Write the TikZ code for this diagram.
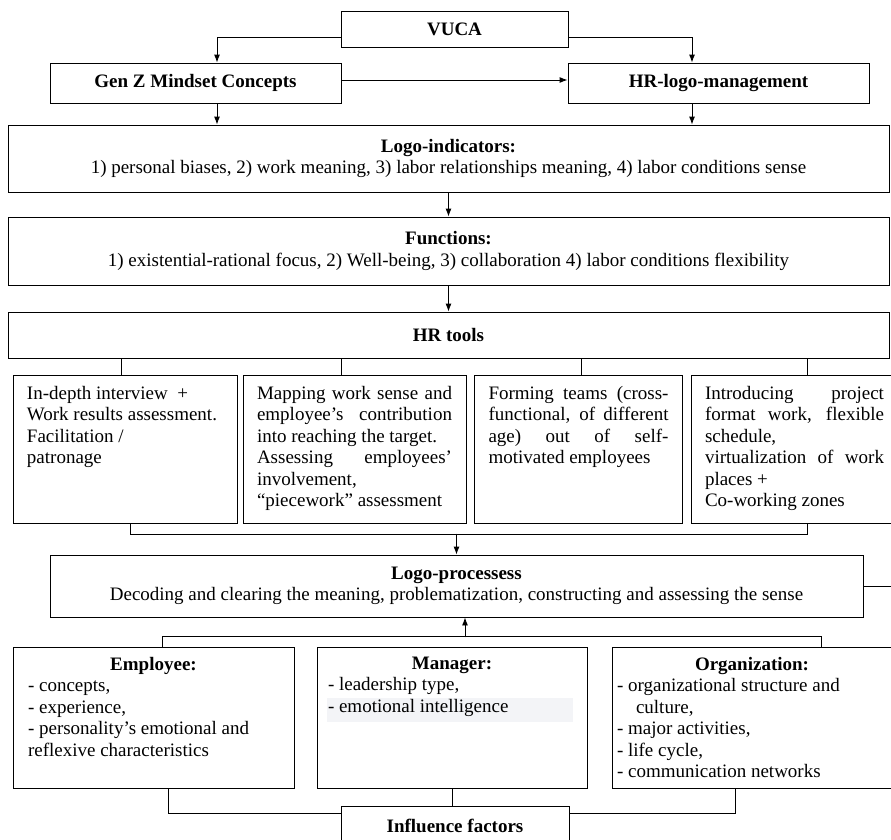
\documentclass[tikz,border=0pt]{standalone}
\usepackage{fontspec}
\setmainfont{Liberation Serif}
\usetikzlibrary{arrows.meta,calc,backgrounds}
\definecolor{hlgray}{RGB}{243,244,247}
\newcommand{\boxtext}[3]{\parbox[c][#2pt][t]{#1pt}{\hyphenpenalty=10000 \tolerance=9999 #3}}
\tikzset{
  box/.style={draw, align=center, inner sep=0pt},
  title/.style={font=\fontsize{19}{21.5}\selectfont\bfseries},
  tool/.style={draw, inner xsep=14pt, inner ysep=11pt},
  factor/.style={draw, inner ysep=10pt},
  arr/.style={-{Latex[length=8pt,width=6pt]}},
}

\begin{document}
\begin{tikzpicture}[x=1pt, y=-1pt, line width=0.9pt, font=\fontsize{19}{21.5}\selectfont]
\useasboundingbox (0,0) rectangle (891,839);
% top
\node[box, title, minimum width=227, minimum height=36] (vuca) at (454.5,29) {VUCA};
\node[box, title, minimum width=291, minimum height=40] (genz) at (195.5,83) {Gen Z Mindset Concepts};
\node[box, title, minimum width=301, minimum height=40] (hrlogo) at (718.5,83) {HR-logo-management};
\draw[arr] ([yshift=-8]vuca.west) -| ([xshift=21.5]genz.north);
\draw[arr] ([yshift=-8]vuca.east) -| ([xshift=-26.5]hrlogo.north);
\draw[arr] ([yshift=3]genz.east) -- ([yshift=3]hrlogo.west);

% indicators, functions, tools
\node[box, minimum width=881, minimum height=67] (logoind) at (448.5,158.5)
  {\textbf{Logo-indicators:}\\ 1) personal biases, 2) work meaning, 3) labor relationships meaning, 4) labor conditions sense};
\node[box, minimum width=881, minimum height=68] (functions) at (448.5,251)
  {\textbf{Functions:}\\ 1) existential-rational focus, 2) Well-being, 3) collaboration 4) labor conditions flexibility};
\node[box, title, minimum width=881, minimum height=46] (hrtools) at (448.5,335) {HR tools};
\draw[arr] ([xshift=21.5]genz.south) -- ([xshift=21.5]genz.south |- logoind.north);
\draw[arr] ([xshift=-26.5]hrlogo.south) -- ([xshift=-26.5]hrlogo.south |- logoind.north);
\draw[arr] (logoind.south) -- (functions.north);
\draw[arr] (functions.south) -- (hrtools.north);

\node[tool] (tool1) at (125,449) {\boxtext{196}{126}{In-depth interview~~+\newline Work results assessment.\newline Facilitation /\newline patronage}};
\node[tool] (tool2) at (354.5,449) {\boxtext{195}{126}{Mapping work sense and employee’s contribution into reaching the target.\newline Assessing employees’ involvement,\newline “piecework” assessment}};
\node[tool] (tool3) at (578.5,449) {\boxtext{180}{126}{Forming teams (cross-functional, of different age) out of self-motivated employees}};
\node[tool] (tool4) at (794.5,449) {\boxtext{179}{126}{Introducing project format work, flexible schedule,\newline virtualization of work places +\newline Co-working zones}};
\foreach \t/\dx in {tool1/-4, tool2/-13.5, tool3/2.5, tool4/12.5}
  \draw ([xshift=\dx]\t.north) -- ([xshift=\dx]\t.north |- hrtools.south);

% processes
\node[box, minimum width=813, minimum height=62] (logoproc) at (456.5,586)
  {\textbf{Logo-processess}\\ Decoding and clearing the meaning, problematization, constructing and assessing the sense};
\draw ([xshift=5]tool1.south) -- ++(0,11) -| ([xshift=12.5]tool4.south);
\draw[arr] (logoproc.north) ++(0,-21) -- (logoproc.north);
\draw (logoproc.east) -- ++(40,0);

% influence factors
\node[factor, inner xsep=15pt] (employee) at (153.5,717.5) {\boxtext{251}{121}{\raggedright\centerline{\bfseries Employee:}- concepts,\\ - experience,\\ - personality’s emotional and\\ reflexive characteristics}};
\node[factor, inner xsep=11pt] (manager) at (452,717.5) {\boxtext{248}{121}{\raggedright\centerline{\bfseries Manager:}- leadership type,\\ - emotional intelligence}};
\node[factor, inner xsep=5pt] (organization) at (752,717.5) {\boxtext{270}{121}{\raggedright\centerline{\bfseries Organization:}- organizational structure and\\ \hspace*{1em}culture,\\ - major activities,\\ - life cycle,\\ - communication networks}};
\begin{scope}[on background layer]
  \fill[hlgray] ($(manager.north west)+(10,51)$) rectangle ++(246,24);
\end{scope}
\node[box, title, minimum width=228, minimum height=40] (influence) at (455,826) {Influence factors};

\draw ([xshift=8.5]employee.north) -- ++(0,-10) -| ([xshift=69]organization.north);
\draw[arr] ([xshift=8.5]logoproc.south) ++(0,20) -- ([xshift=8.5]logoproc.south);
\draw ([xshift=14.5]employee.south) |- ([yshift=13]influence.west);
\draw (manager.south) -- (manager.south |- influence.north);
\draw ([xshift=-17]organization.south) |- ([yshift=13]influence.east);
\end{tikzpicture}
\end{document}
